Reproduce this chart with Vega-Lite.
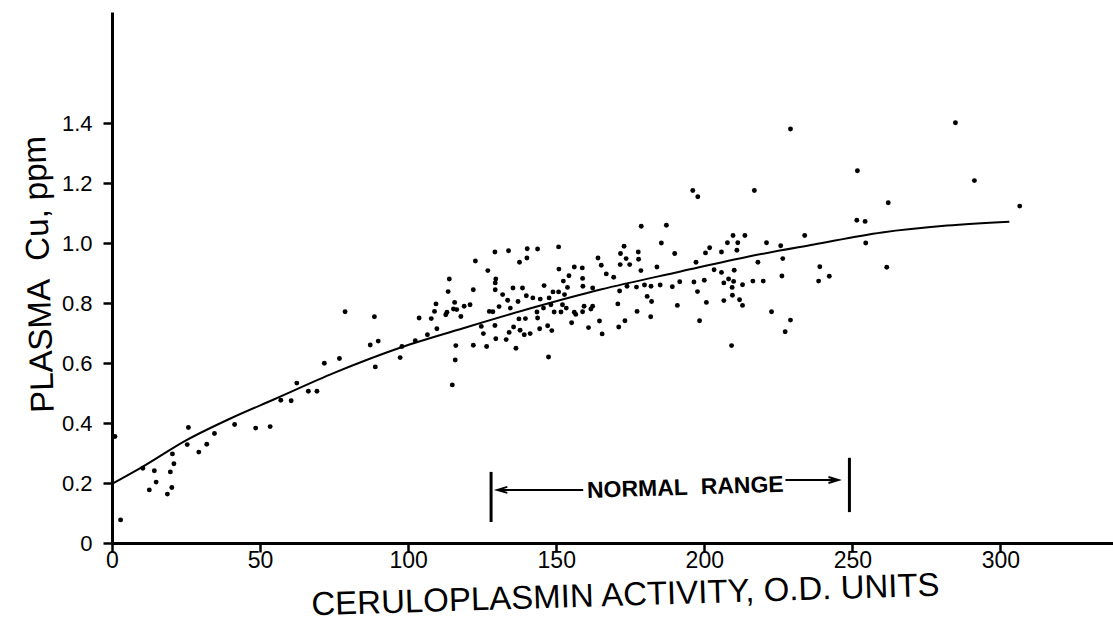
{
  "$schema": "https://vega.github.io/schema/vega-lite/v6.json",
  "autosize": "none",
  "width": 1001,
  "height": 531,
  "padding": {"left": 112, "top": 12, "right": 0, "bottom": 78},
  "background": "white",
  "config": {"view": {"stroke": null}, "font": "Liberation Sans"},
  "datasets": {
    "pts": [
      {"x":1.0,"y":0.355},{"x":2.9,"y":0.077},{"x":10.4,"y":0.249},{"x":14.3,"y":0.241},{"x":12.6,"y":0.177},{"x":14.9,"y":0.203},{"x":20.4,"y":0.297},{"x":20.9,"y":0.264},{"x":19.7,"y":0.237},{"x":20.2,"y":0.185},{"x":18.7,"y":0.163},{"x":25.8,"y":0.385},{"x":25.4,"y":0.328},{"x":29.3,"y":0.303},{"x":32.0,"y":0.329},{"x":34.6,"y":0.365},{"x":41.4,"y":0.395},{"x":48.5,"y":0.383},{"x":53.4,"y":0.388},{"x":57.0,"y":0.476},{"x":60.5,"y":0.474},{"x":62.4,"y":0.533},{"x":66.3,"y":0.506},{"x":69.2,"y":0.506},{"x":71.7,"y":0.599},{"x":76.8,"y":0.615},{"x":78.7,"y":0.771},{"x":88.6,"y":0.754},{"x":87.2,"y":0.660},{"x":89.9,"y":0.673},{"x":88.9,"y":0.587},{"x":97.3,"y":0.618},
      {"x":97.9,"y":0.655},{"x":102.4,"y":0.674},{"x":103.7,"y":0.750},{"x":106.5,"y":0.694},{"x":107.8,"y":0.748},{"x":108.9,"y":0.772},{"x":109.4,"y":0.797},{"x":109.7,"y":0.714},{"x":112.7,"y":0.761},{"x":113.1,"y":0.769},{"x":113.9,"y":0.880},{"x":113.5,"y":0.838},{"x":115.7,"y":0.802},{"x":115.3,"y":0.780},{"x":116.4,"y":0.778},{"x":117.8,"y":0.755},{"x":118.9,"y":0.789},{"x":120.9,"y":0.794},{"x":116.1,"y":0.658},{"x":115.9,"y":0.610},{"x":114.9,"y":0.527},{"x":122.0,"y":0.844},{"x":122.7,"y":0.940},{"x":122.0,"y":0.659},{"x":124.7,"y":0.722},{"x":125.4,"y":0.698},{"x":126.9,"y":0.908},{"x":126.5,"y":0.655},{"x":127.4,"y":0.772},{"x":128.6,"y":0.771},{"x":129.3,"y":0.970},{"x":129.6,"y":0.880},{"x":129.4,"y":0.867},{"x":129.4,"y":0.844},{"x":129.3,"y":0.725},{"x":129.6,"y":0.681},{"x":130.7,"y":0.788},{"x":131.9,"y":0.828},{"x":133.1,"y":0.678},{"x":133.9,"y":0.974},{"x":133.6,"y":0.809},{"x":134.5,"y":0.783},{"x":134.1,"y":0.702},{"x":135.4,"y":0.850},{"x":135.6,"y":0.720},{"x":136.4,"y":0.649},{"x":137.1,"y":0.805},{"x":137.6,"y":0.936},{"x":137.4,"y":0.747},{"x":137.8,"y":0.709},{"x":138.6,"y":0.850},{"x":139.2,"y":0.694},{"x":139.6,"y":0.748},{"x":140.2,"y":0.981},{"x":140.1,"y":0.950},{"x":139.9,"y":0.824},{"x":141.2,"y":0.698},{"x":142.1,"y":0.817},{"x":143.5,"y":0.770},{"x":143.7,"y":0.750},{"x":143.7,"y":0.980},{"x":144.4,"y":0.714},{"x":144.6,"y":0.813},{"x":145.9,"y":0.858},{"x":145.7,"y":0.783},{"x":147.1,"y":0.724},{"x":147.4,"y":0.620},{"x":147.6,"y":0.817},{"x":148.2,"y":0.794},{"x":148.5,"y":0.708},{"x":148.9,"y":0.837},{"x":149.3,"y":0.770},{"x":150.8,"y":0.987},{"x":150.9,"y":0.913},{"x":150.8,"y":0.837},{"x":151.6,"y":0.770},{"x":152.1,"y":0.794},{"x":152.4,"y":0.873},{"x":152.8,"y":0.828},{"x":153.4,"y":0.783},{"x":153.8,"y":0.852},{"x":154.3,"y":0.891},{"x":155.2,"y":0.734},{"x":156.1,"y":0.920},{"x":156.1,"y":0.769},{"x":156.6,"y":0.762},{"x":158.8,"y":0.917},{"x":158.9,"y":0.882},{"x":159.0,"y":0.856},{"x":158.9,"y":0.771},{"x":159.4,"y":0.789},{"x":160.9,"y":0.718},{"x":161.7,"y":0.780},{"x":162.3,"y":0.789},{"x":162.3,"y":0.850},{"x":164.1,"y":0.950},{"x":164.6,"y":0.740},{"x":165.2,"y":0.926},{"x":165.5,"y":0.697},{"x":166.9,"y":0.897},{"x":169.4,"y":0.886},{"x":171.1,"y":0.720},{"x":170.8,"y":0.797},{"x":171.4,"y":0.840},{"x":171.6,"y":0.928},{"x":171.7,"y":0.965},{"x":172.9,"y":0.989},{"x":173.6,"y":0.948},{"x":173.9,"y":0.856},{"x":173.2,"y":0.741},{"x":174.8,"y":0.928},{"x":177.1,"y":0.853},{"x":177.3,"y":0.772},{"x":177.7,"y":0.970},{"x":177.8,"y":0.946},{"x":178.6,"y":0.908},{"x":178.7,"y":1.056},{"x":179.8,"y":0.860},{"x":180.7,"y":0.822},{"x":182.0,"y":0.856},{"x":182.2,"y":0.805},{"x":181.9,"y":0.754},{"x":184.0,"y":0.920},{"x":185.1,"y":0.860},{"x":185.5,"y":1.000},{"x":187.2,"y":1.059},{"x":189.2,"y":0.854},{"x":190.0,"y":0.965},{"x":190.9,"y":0.792},{"x":191.7,"y":0.871},{"x":196.1,"y":1.175},{"x":197.8,"y":1.154},{"x":197.2,"y":0.936},{"x":196.5,"y":0.870},{"x":197.7,"y":0.838},{"x":198.4,"y":0.741},
      {"x":200.0,"y":0.876},{"x":200.4,"y":0.967},{"x":201.8,"y":0.984},{"x":200.7,"y":0.802},{"x":203.3,"y":0.911},{"x":205.8,"y":0.902},{"x":205.8,"y":0.970},{"x":206.6,"y":0.867},{"x":206.6,"y":0.808},{"x":207.8,"y":1.001},{"x":208.2,"y":0.880},{"x":209.4,"y":0.852},{"x":209.5,"y":0.826},{"x":209.2,"y":0.658},{"x":209.7,"y":1.025},{"x":209.9,"y":0.872},{"x":210.1,"y":0.909},{"x":211.0,"y":0.976},{"x":211.3,"y":1.001},{"x":211.9,"y":0.811},{"x":212.9,"y":0.861},{"x":212.9,"y":0.792},{"x":213.7,"y":1.025},{"x":216.4,"y":0.873},{"x":216.9,"y":1.175},{"x":218.1,"y":0.936},{"x":219.9,"y":0.873},{"x":221.0,"y":1.001},{"x":222.7,"y":0.771},{"x":225.8,"y":0.991},{"x":226.5,"y":0.948},{"x":226.2,"y":0.890},{"x":227.3,"y":0.704},{"x":229.1,"y":0.743},{"x":229.1,"y":1.380},{"x":233.9,"y":1.025},{"x":239.0,"y":0.921},{"x":238.6,"y":0.873},{"x":242.2,"y":0.889},{"x":251.5,"y":1.076},{"x":254.3,"y":1.072},{"x":251.7,"y":1.241},{"x":254.5,"y":1.000},{"x":261.6,"y":0.919},{"x":262.1,"y":1.134},{"x":284.8,"y":1.401},{"x":291.2,"y":1.208},{"x":306.5,"y":1.123}
    ],
    "curve": [
      {"x":0,"y":0.197},{"x":10,"y":0.252},{"x":25,"y":0.342},{"x":40,"y":0.415},{"x":55,"y":0.48},{"x":75,"y":0.567},{"x":97,"y":0.65},{"x":120,"y":0.72},{"x":142,"y":0.784},{"x":165,"y":0.845},{"x":192,"y":0.905},{"x":215,"y":0.955},{"x":237,"y":0.995},{"x":260,"y":1.035},{"x":282,"y":1.058},{"x":303,"y":1.071}
    ],
    "bars": [{"x":128,"y":0.07,"y2":0.237},{"x":249,"y":0.103,"y2":0.284}],
    "arrows": [{"x":130.7,"x2":159.1,"y":0.177},{"x":227.4,"x2":245.3,"y":0.21}],
    "heads": [{"x":131.8,"y":0.177,"dir":"L"},{"x":243.6,"y":0.21,"dir":"R"}],
    "label": [{"x":193.6,"y":0.184,"text":"NORMAL\u00a0\u00a0RANGE"}]
  },
  "layer": [
    {
      "data": {"name": "pts"},
      "mark": {"type": "circle", "size": 24, "color": "black", "opacity": 1},
      "encoding": {
        "x": {"field": "x", "type": "quantitative", "scale": {"domain": [0, 338], "nice": false, "zero": false},
          "axis": {"title": "CERULOPLASMIN ACTIVITY, O.D. UNITS", "values": [0,50,100,150,200,250,300], "grid": false,
            "domainColor": "black", "domainWidth": 3, "tickColor": "black", "tickWidth": 2.5, "tickSize": 9,
            "labelFont": "Liberation Sans", "labelFontSize": 23, "labelColor": "black", "labelPadding": -3, "labelFlush": false,
            "titleFont": "Liberation Sans", "titleFontSize": 33, "titleFontWeight": "normal", "titleColor": "black",
            "titleX": 513, "titleY": 52, "titleBaseline": "middle", "titleAlign": "center", "titleAngle": -1.8}},
        "y": {"field": "y", "type": "quantitative", "scale": {"domain": [0, 1.77], "nice": false, "zero": false},
          "axis": {"title": "PLASMA\u00a0\u00a0Cu, ppm", "values": [0,0.2,0.4,0.6,0.8,1.0,1.2,1.4], "grid": false,
            "labelExpr": "datum.value == 0 ? '0' : format(datum.value, '.1f')",
            "domainColor": "black", "domainWidth": 3, "tickColor": "black", "tickWidth": 2.5, "tickSize": 9,
            "labelFont": "Liberation Sans", "labelFontSize": 22, "labelColor": "black", "labelPadding": 11, "labelFlush": false,
            "titleFont": "Liberation Sans", "titleFontSize": 33, "titleFontWeight": "normal", "titleColor": "black",
            "titleX": -73, "titleY": 262, "titleBaseline": "middle", "titleAlign": "center", "titleAngle": 268.2}}
      }
    },
    {
      "data": {"name": "curve"},
      "mark": {"type": "line", "color": "black", "strokeWidth": 2, "interpolate": "monotone"},
      "encoding": {
        "x": {"field": "x", "type": "quantitative"},
        "y": {"field": "y", "type": "quantitative"}
      }
    },
    {
      "data": {"name": "bars"},
      "mark": {"type": "rule", "color": "black", "strokeWidth": 3},
      "encoding": {
        "x": {"field": "x", "type": "quantitative"},
        "y": {"field": "y", "type": "quantitative"},
        "y2": {"field": "y2"}
      }
    },
    {
      "data": {"name": "arrows"},
      "mark": {"type": "rule", "color": "black", "strokeWidth": 2},
      "encoding": {
        "x": {"field": "x", "type": "quantitative"},
        "x2": {"field": "x2"},
        "y": {"field": "y", "type": "quantitative"}
      }
    },
    {
      "data": {"name": "heads"},
      "mark": {"type": "point", "filled": false, "color": "black", "strokeWidth": 2, "size": 100, "opacity": 1},
      "encoding": {
        "x": {"field": "x", "type": "quantitative"},
        "y": {"field": "y", "type": "quantitative"},
        "shape": {"field": "dir", "type": "nominal", "legend": null,
          "scale": {"domain": ["L", "R"], "range": ["M1,-0.6L-1,0L1,0.6", "M-1,-0.6L1,0L-1,0.6"]}}
      }
    },
    {
      "data": {"name": "label"},
      "mark": {"type": "text", "color": "black", "font": "Liberation Sans", "fontSize": 23, "fontWeight": "bold", "angle": -1.8, "align": "center", "baseline": "middle"},
      "encoding": {
        "x": {"field": "x", "type": "quantitative"},
        "y": {"field": "y", "type": "quantitative"},
        "text": {"field": "text"}
      }
    }
  ]
}
